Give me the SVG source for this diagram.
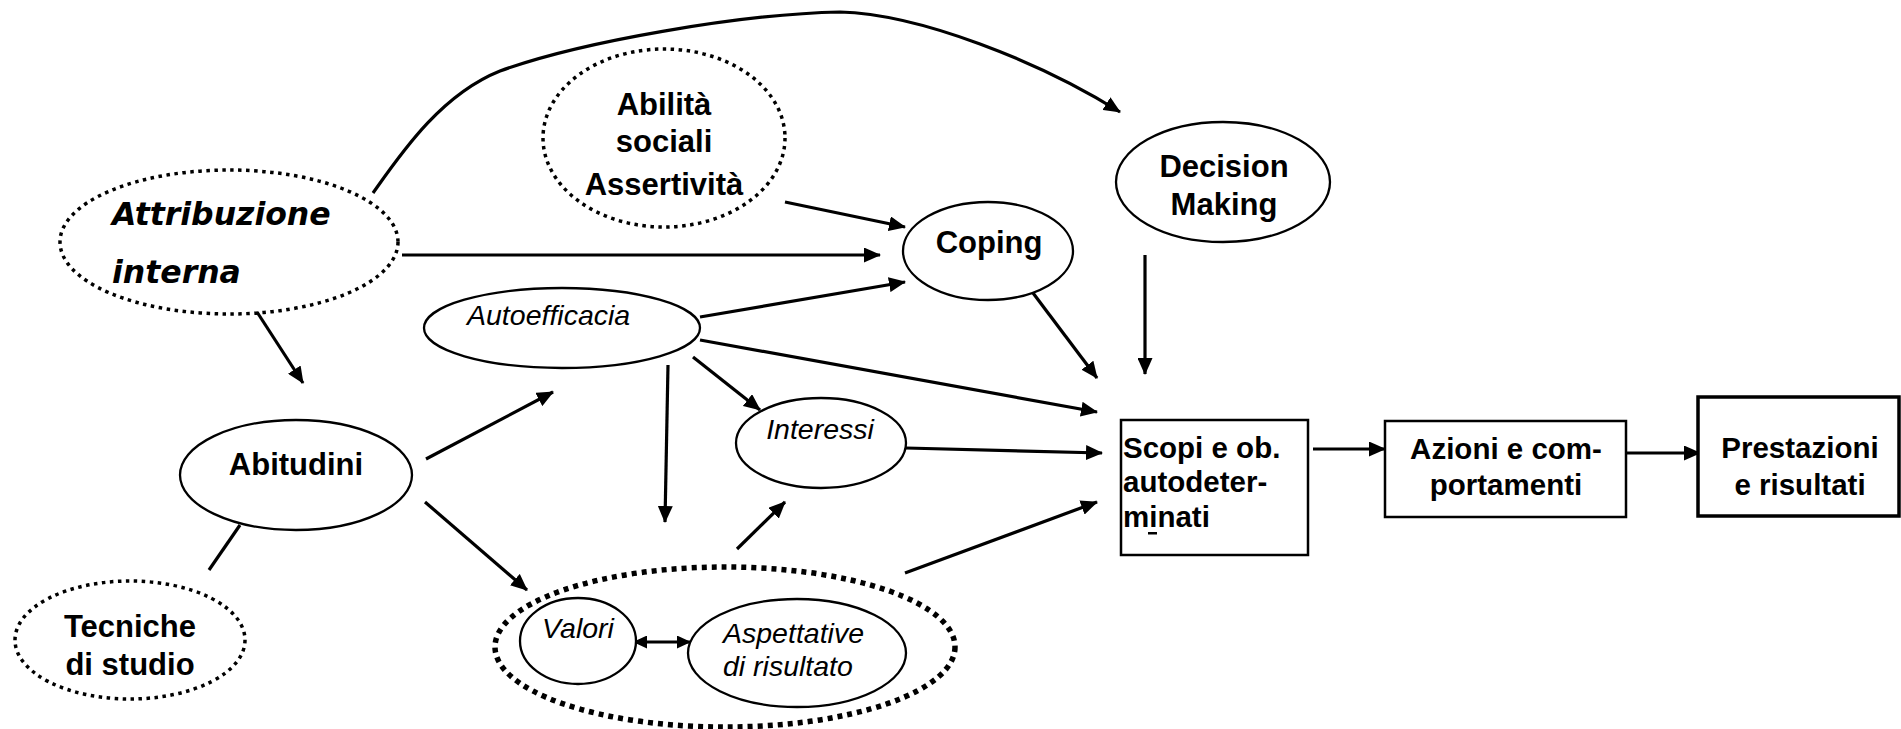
<svg xmlns="http://www.w3.org/2000/svg" width="1901" height="729" viewBox="0 0 1901 729">
<style>
.sol{fill:#fff;stroke:#000;stroke-width:2.3}
.dot{fill:none;stroke:#000;stroke-width:3.5;stroke-dasharray:3.5 4.5}
.dotbig{fill:none;stroke:#000;stroke-width:5.5;stroke-dasharray:5 5}
.box{fill:#fff;stroke:#000;stroke-width:2.5}
.b{font-family:"Liberation Sans",Arial,sans-serif;font-weight:bold;font-size:31px;fill:#000}
.bs{font-family:"Liberation Sans",Arial,sans-serif;font-weight:bold;font-size:29.5px;fill:#000}
.i{font-family:"Liberation Sans",Arial,sans-serif;font-style:italic;font-size:28.5px;fill:#000}
.bi{font-family:"DejaVu Sans",Verdana,sans-serif;font-weight:bold;font-style:oblique;font-size:31.5px;fill:#000}
.c{text-anchor:middle}
.ln{fill:none;stroke:#000;stroke-width:3.2}
.ar{marker-end:url(#ah)}
</style>
<defs>
<marker id="ah" markerUnits="userSpaceOnUse" markerWidth="17" markerHeight="15" viewBox="0 0 17 15" refX="16" refY="7.5" orient="auto">
<path d="M0,0 L17,7.5 L0,15 z" fill="#000"/>
</marker>
<marker id="ahs" markerUnits="userSpaceOnUse" markerWidth="14" markerHeight="13" viewBox="0 0 14 13" refX="13" refY="6.5" orient="auto-start-reverse">
<path d="M0,0 L14,6.5 L0,13 z" fill="#000"/>
</marker>
</defs>

<g id="connectors">
<path class="ln ar" d="M373,193 C400,155 440,95 500,71 C580,42 740,14 840,12 C920,14 1040,62 1120,112"/>
<line class="ln ar" x1="402" y1="255" x2="880" y2="255"/>
<line class="ln ar" x1="257" y1="312" x2="303" y2="383"/>
<line class="ln ar" x1="785" y1="202" x2="905" y2="227"/>
<line class="ln ar" x1="700" y1="317" x2="905" y2="282"/>
<line class="ln ar" x1="700" y1="340" x2="1097" y2="412"/>
<line class="ln ar" x1="693" y1="357" x2="760" y2="410"/>
<line class="ln ar" x1="668" y1="365" x2="665" y2="522"/>
<line class="ln ar" x1="1033" y1="293" x2="1097" y2="378"/>
<line class="ln ar" x1="1145" y1="255" x2="1145" y2="374"/>
<line class="ln ar" x1="906" y1="448" x2="1102" y2="453"/>
<line class="ln ar" x1="737" y1="549" x2="785" y2="502"/>
<line class="ln ar" x1="905" y1="573" x2="1097" y2="502"/>
<line class="ln ar" x1="426" y1="459" x2="553" y2="392"/>
<line class="ln ar" x1="425" y1="502" x2="527" y2="590"/>
<line class="ln" x1="240" y1="525" x2="209" y2="570"/>
<line class="ln" x1="634" y1="642" x2="690" y2="642" marker-start="url(#ahs)" marker-end="url(#ahs)"/>
<line class="ln ar" x1="1313" y1="449" x2="1385" y2="449"/>
<line class="ln ar" x1="1626" y1="453" x2="1700" y2="453"/>
</g>

<g id="attribuzione">
<ellipse class="dot" cx="229" cy="242" rx="169" ry="72"/>
<text class="bi" x="112" y="225">Attribuzione</text>
<text class="bi" x="112" y="283">interna</text>
</g>

<g id="abilita">
<ellipse class="dot" cx="664" cy="138" rx="121" ry="89"/>
<text class="b c" x="664" y="115">Abilità</text>
<text class="b c" x="664" y="152">sociali</text>
<text class="b c" x="664" y="195">Assertività</text>
</g>

<g id="decision">
<ellipse class="sol" cx="1223" cy="182" rx="107" ry="60"/>
<text class="b c" x="1224" y="177">Decision</text>
<text class="b c" x="1224" y="215">Making</text>
</g>

<g id="coping">
<ellipse class="sol" cx="988" cy="251" rx="85" ry="49"/>
<text class="b c" x="989" y="253">Coping</text>
</g>

<g id="autoefficacia">
<ellipse class="sol" cx="562" cy="328" rx="138" ry="40"/>
<text class="i" x="467" y="325">Autoefficacia</text>
</g>

<g id="abitudini">
<ellipse class="sol" cx="296" cy="475" rx="116" ry="55"/>
<text class="b c" x="296" y="475">Abitudini</text>
</g>

<g id="tecniche">
<ellipse class="dot" cx="130" cy="640" rx="115" ry="59"/>
<text class="b c" x="130" y="637">Tecniche</text>
<text class="b c" x="130" y="675">di studio</text>
</g>

<g id="interessi">
<ellipse class="sol" cx="821" cy="443" rx="85" ry="45"/>
<text class="i c" x="820" y="439">Interessi</text>
</g>

<g id="gruppo">
<ellipse class="dotbig" cx="725" cy="647" rx="230" ry="80"/>
</g>

<g id="valori">
<ellipse class="sol" cx="578" cy="641" rx="58" ry="43"/>
<text class="i c" x="578" y="638">Valori</text>
</g>

<g id="aspettative">
<ellipse class="sol" cx="797" cy="653" rx="109" ry="54"/>
<text class="i" x="723" y="643">Aspettative</text>
<text class="i" x="723" y="676">di risultato</text>
</g>

<g id="scopi">
<rect class="box" x="1121" y="420" width="187" height="135"/>
<text class="bs" x="1123" y="458">Scopi e ob.</text>
<text class="bs" x="1123" y="492">autodeter-</text>
<text class="bs" x="1123" y="527">minati</text>
<rect x="1148" y="532" width="9" height="2.5" fill="#000"/>
</g>

<g id="azioni">
<rect class="box" x="1385" y="421" width="241" height="96"/>
<text class="bs c" x="1506" y="459">Azioni e com-</text>
<text class="bs c" x="1506" y="495">portamenti</text>
</g>

<g id="prestazioni">
<rect x="1698" y="397" width="201" height="119" fill="#fff" stroke="#000" stroke-width="3.5"/>
<text class="bs c" x="1800" y="458">Prestazioni</text>
<text class="bs c" x="1800" y="495">e risultati</text>
</g>
</svg>
